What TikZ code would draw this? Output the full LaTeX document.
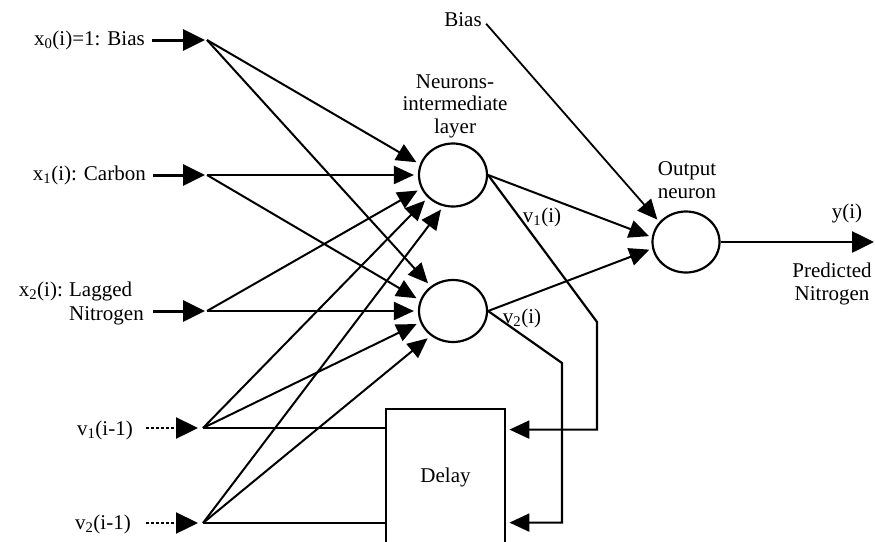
\documentclass[tikz,border=0pt]{standalone}
\usepackage{fontspec}
\setmainfont{Liberation Serif}
\usetikzlibrary{arrows.meta,shapes.geometric,calc}
\begin{document}
\begin{tikzpicture}[x=1pt,y=-1pt,
  font=\fontsize{21}{22.5}\selectfont,
  neuron/.style={draw,ellipse,line width=2.2pt,minimum width=68pt,minimum height=63pt,inner sep=0pt},
  conn/.style={line width=2pt,-{Triangle[length=20pt,width=18pt]},shorten >=4pt},
  inarrow/.style={line width=3pt,-{Triangle[length=22pt,width=21pt]}},
  dasharrow/.style={line width=2.4pt,dash pattern=on 3pt off 2pt,-{Triangle[length=22pt,width=21pt]}},
  plain/.style={line width=2.2pt},
  lbl/.style={inner sep=1pt}]
\clip (0,0) rectangle (875,541);
\useasboundingbox (0,0) rectangle (875,541);

% neurons and delay
\node[neuron] (H1) at (453,175) {};
\node[neuron,minimum height=62pt] (H2) at (453,311) {};
\node[neuron,minimum width=67pt,minimum height=61pt] (O) at (686,242) {};
\node[draw,line width=2.8pt,minimum width=119pt,minimum height=136pt,inner sep=0pt] (delay) at (445.5,477) {Delay};

% junctions
\coordinate (J0) at (207,40);
\coordinate (J1) at (207,175);
\coordinate (J2) at (207,311);
\coordinate (J3) at (203,428);
\coordinate (J4) at (203,523);

% input labels
\node[lbl,anchor=east] (x0) at (146,40) {x\textsubscript{0}(i)=1: Bias};
\node[lbl,anchor=east] (x1) at (147,175) {x\textsubscript{1}(i): Carbon};
\node[lbl,anchor=east] (x2) at (145,304) {\begin{tabular}{@{}l@{\hspace{0.3em}}l@{}}x\textsubscript{2}(i): & Lagged\\[1pt] & Nitrogen\end{tabular}};
\node[lbl,anchor=east] (v1in) at (134,430) {v\textsubscript{1}(i-1)};
\node[lbl,anchor=east] (v2in) at (132,524) {v\textsubscript{2}(i-1)};

% input arrows
\draw[inarrow,shorten <=6pt,shorten >=2pt] (x0.east) -- (J0);
\draw[inarrow,shorten <=6pt,shorten >=2pt] (x1.east) -- (J1);
\draw[inarrow,shorten <=8pt,shorten >=2pt] (x2.east |- J2) -- (J2);
\draw[dasharrow,shorten <=12pt,shorten >=5pt] (v1in.east |- J3) -- (J3);
\draw[dasharrow,shorten <=14pt,shorten >=5pt] (v2in.east |- J4) -- (J4);

% to hidden neuron 1
\draw[conn] (J0) -- (H1.162);
\draw[conn] (J1) -- (H1.180);
\draw[conn] (J2) -- (H1.203);
\draw[conn] (J3) -- (H1.222);
\draw[conn] (J4) -- (H1.253);
% to hidden neuron 2
\draw[conn] (J0) -- (H2.132);
\draw[conn] (J1) -- (H2.162);
\draw[conn] (J2) -- (H2.180);
\draw[conn] (J3) -- (H2.199);
\draw[conn] (J4) -- (H2.228);

% delayed inputs into delay box
\draw[plain] (J3) -- (J3 -| delay.west);
\draw[plain] (J4) -- (J4 -| delay.west);

% to output neuron
\node[lbl] (bias) at (463,20) {Bias};
\draw[conn,line width=1.8pt,shorten <=5pt,shorten >=3pt] (bias.east) -- (O.143);
\draw[conn,shorten >=3pt] (H1.east) -- (O.172);
\draw[conn,shorten >=3pt] (H2.east) -- (O.191);

% output
\coordinate (yend) at (874,242);
\draw[line width=2.6pt,-{Triangle[length=22pt,width=21pt]}] (O.east) -- (yend);

% feedback
\coordinate (fb1) at (597,322);
\coordinate (fb2) at (562,363);
\coordinate (d1) at ($(delay.north east)+(0,22)$);
\coordinate (d2) at ($(delay.north east)+(0,115)$);
\draw[plain,-{Triangle[length=20pt,width=18pt]},shorten >=3pt] (H1.east) -- (fb1) |- (d1);
\draw[plain,-{Triangle[length=20pt,width=18pt]},shorten >=3pt] (H2.east) -- (fb2) |- (d2);

% labels
\node[lbl] (v1out) at (542,217) {v\textsubscript{1}(i)};
\node[lbl] (v2out) at (522,318) {v\textsubscript{2}(i)};
\node[lbl,align=center] (hidlab) at (455,106) {Neurons-\\intermediate\\layer};
\node[lbl,align=center] (outlab) at (687,180) {Output\\neuron};
\node[lbl] (ylab) at (847,213) {y(i)};
\node[lbl,align=center] (predlab) at (832,284) {Predicted\\Nitrogen};
\end{tikzpicture}
\end{document}
